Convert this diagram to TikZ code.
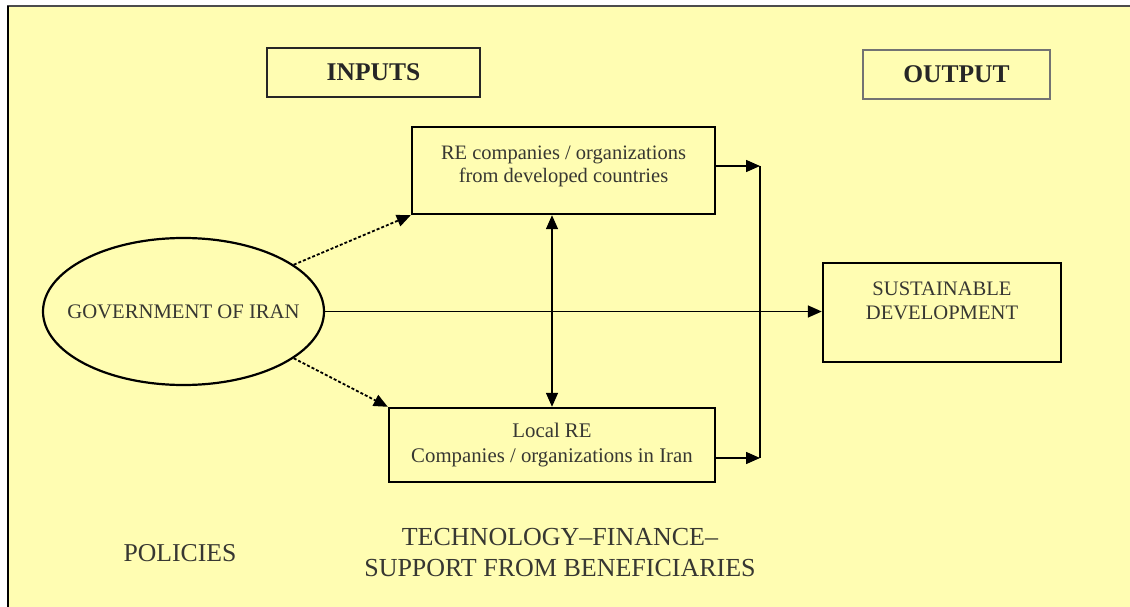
\documentclass[tikz,border=0pt]{standalone}
\usepackage{fontspec}
\setmainfont{Liberation Serif}
\usetikzlibrary{shapes.geometric,arrows.meta}
\definecolor{bgyellow}{RGB}{255,253,178}
\definecolor{txtgray}{RGB}{55,55,50}
\begin{document}
\begin{tikzpicture}[x=1pt,y=-1pt,
  box/.style={draw=black,line width=2.4pt,inner sep=0pt,align=center,text=txtgray},
  hdr/.style={draw=black!85,line width=1.6pt,inner sep=0pt,text=black!85,font=\fontsize{25.5}{28}\selectfont\bfseries},
  tip/.style={Triangle[length=14pt,width=12pt]},
  conn/.style={line width=1.5pt,-{Triangle[length=14pt,width=12pt]}},
  dconn/.style={conn,line width=1.8pt,dash pattern=on 3pt off 2pt},
  lbl/.style={text=txtgray,align=center}]
\useasboundingbox (0,0) rectangle (1130,607);
\fill[white] (0,0) rectangle (1130,607);
\fill[bgyellow] (7,6) rectangle (1130,607);
\draw[black!70,line width=2pt] (7,6.5) -- (1130,6.5);
\draw[black,line width=2.6pt] (8,6) -- (8,607);
% header boxes
\node[hdr,minimum width=213pt,minimum height=49pt] (inputs) at (373.5,72.5) {INPUTS};
\node[hdr,draw=black!55,line width=1.2pt,minimum width=187pt,minimum height=49pt] (output) at (956.5,74.5) {OUTPUT};
% main nodes
\node[box,minimum width=303pt,minimum height=87pt,font=\fontsize{20.5}{23}\selectfont] (re) at (563.5,170.5)
  {RE companies / organizations\\from developed countries\\[-11pt]};
\node[box,minimum width=326pt,minimum height=74pt,font=\fontsize{20.8}{25}\selectfont] (local) at (552,445)
  {Local RE\\Companies / organizations in Iran};
\node[box,minimum width=238pt,minimum height=99pt,font=\fontsize{20.6}{24}\selectfont] (sus) at (942,312.5)
  {SUSTAINABLE\\DEVELOPMENT\\[0pt]};
\node[ellipse,draw=black,line width=2.2pt,minimum width=281pt,minimum height=147pt,inner sep=0pt] (gov) at (183.5,311.5) {};
\node[lbl,font=\fontsize{20.7}{24}\selectfont] (govtext) at (gov.center) {GOVERNMENT OF IRAN};
% bottom labels
\node[lbl,font=\fontsize{25.7}{31}\selectfont] (policies) at (180,553) {POLICIES};
\node[lbl,font=\fontsize{26}{31}\selectfont] (tech) at (560,553) {TECHNOLOGY–FINANCE–\\SUPPORT FROM BENEFICIARIES};
% connectors
\coordinate (vt) at (760,166);
\coordinate (vb) at (760,458);
\draw[line width=1.5pt] (vt) -- (vb);
\draw[conn] (re.east |- vt) -- (vt);
\draw[conn] (local.east |- vb) -- (vb);
\draw[conn] (gov.east) -- (sus.west |- gov.east);
\draw[line width=1.5pt,{Triangle[length=14pt,width=12pt]}-{Triangle[length=14pt,width=12pt]}] (local.north |- re.south) -- (local.north);
\draw[dconn] (gov.23) -- (re.south west);
\draw[dconn] (gov.-23) -- (local.north west);
\end{tikzpicture}
\end{document}
